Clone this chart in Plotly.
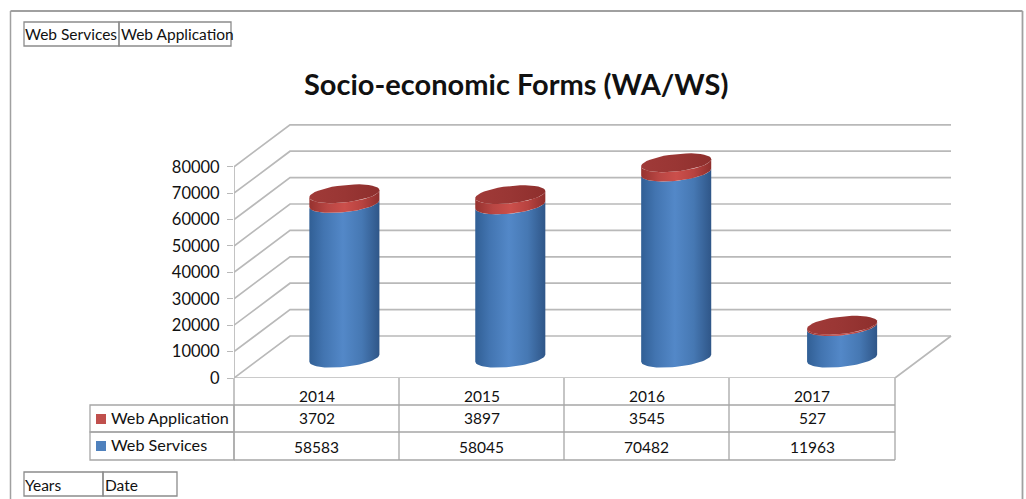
import numpy as np
import plotly.graph_objects as go

years = ["2014", "2015", "2016", "2017"]
web_application = [3702, 3897, 3545, 527]
web_services = [58583, 58045, 70482, 11963]
y_ticks = [0, 10000, 20000, 30000, 40000, 50000, 60000, 70000, 80000]

W, H = 1026, 499
FONT = "Lato"
GRID = "#b9b9b9"
TABLE = "#a6a6a6"
BLUE_SCALE = [[0, "#315f95"], [0.2, "#4274b0"], [0.48, "#5388c8"], [0.75, "#4678b3"], [1, "#2f5688"]]
RED_SCALE = [[0, "#96322f"], [0.25, "#b84643"], [0.5, "#cb4f4b"], [0.75, "#b84340"], [1, "#8f2f2d"]]
TOP_SCALE = [[0, "#a03a38"], [0.5, "#993634"], [1, "#8e2f2d"]]

# 3d look, in axis units
DEPTH_X = 0.339
DEPTH_Y = 15900
BAR_DX = 0.168
BAR_STEP = 1.004
BAR_BASE = 7500
RX = 0.212
RY = 3300
TILT = 1350
X_LEFT, X_RIGHT = -0.5, 3.5


def px(x):
    return x / W


def py(y):
    return 1 - y / H


def arc(cx, v, t0, t1):
    t = np.linspace(t0, t1, 40)
    return cx + RX * np.cos(t), v + RY * np.sin(t) + TILT * np.cos(t)


def band(cx, v0, v1):
    # front face of a cylinder slice between two values
    x0, y0 = arc(cx, v0, np.pi, 2 * np.pi)
    x1, y1 = arc(cx, v1, 2 * np.pi, np.pi)
    return np.concatenate([x0, x1, x0[:1]]), np.concatenate([y0, y1, y0[:1]])


def add_piece(fig, x, y, scale, name):
    fig.add_trace(go.Scatter(x=x, y=y, mode="lines", fill="toself", name=name,
                             line={"width": 0},
                             fillgradient={"type": "horizontal", "colorscale": scale},
                             hoverinfo="name", showlegend=False))


def box(x0, y0, x1, y1, color=TABLE, width=1.3):
    return dict(type="rect", xref="paper", yref="paper", x0=px(x0), x1=px(x1), y0=py(y0), y1=py(y1),
                line={"color": color, "width": width}, layer="below")


def line(x0, y0, x1, y1, color=TABLE, width=1.3):
    return dict(type="line", xref="paper", yref="paper", x0=px(x0), x1=px(x1), y0=py(y0), y1=py(y1),
                line={"color": color, "width": width}, layer="below")


def label(x, y, text, size=15.5, anchor="center", **kw):
    return dict(xref="paper", yref="paper", x=px(x), y=py(y), text=text, showarrow=False,
                xanchor=anchor, yanchor="middle", font={"family": FONT, "size": size, "color": "#111111"},
                borderpad=0, **kw)


fig = go.Figure()

# walls and floor
wall_x, wall_y = [], []
for v in y_ticks:
    wall_x += [X_LEFT, X_LEFT + DEPTH_X, X_RIGHT + DEPTH_X, None]
    wall_y += [v, v + DEPTH_Y, v + DEPTH_Y, None]
wall_x += [X_LEFT, X_LEFT, None, X_LEFT, X_RIGHT, X_RIGHT + DEPTH_X]
wall_y += [0, y_ticks[-1], None, 0, 0, DEPTH_Y]
fig.add_trace(go.Scatter(x=wall_x, y=wall_y, mode="lines", line={"color": GRID, "width": 1.7},
                         hoverinfo="skip", showlegend=False))

# cylinders
for i, year in enumerate(years):
    cx = i * BAR_STEP + BAR_DX
    ws_top = BAR_BASE + web_services[i]
    wa_top = ws_top + web_application[i]
    add_piece(fig, *band(cx, BAR_BASE, ws_top), BLUE_SCALE, "Web Services " + year)
    add_piece(fig, *band(cx, ws_top, wa_top), RED_SCALE, "Web Application " + year)
    add_piece(fig, *arc(cx, wa_top, 0, 2 * np.pi), TOP_SCALE, "Web Application " + year)

col_edges = [234, 399, 564, 729, 895]
shapes = [
    line(10.5, 11, 1022.5, 11, "#a0a0a0", 1.8),
    line(10.5, 11, 10.5, 499, "#a0a0a0", 1.5),
    line(1022.5, 11, 1022.5, 499, "#a0a0a0", 1.8),
    box(24, 22, 119, 46, "#8c8c8c"),
    box(119, 22, 231, 46, "#8c8c8c"),
    box(24, 472, 103, 496, "#8c8c8c"),
    box(103, 472, 177, 496, "#8c8c8c"),
    box(90, 405, 234, 432),
    box(90, 432, 234, 460),
    box(96, 414, 106, 424, "#c0504d", 0),
    box(96, 441, 106, 451, "#4f81bd", 0),
    line(234, 405, 895, 405),
    line(234, 432, 895, 432),
    line(234, 460, 895, 460),
]
shapes[9]["fillcolor"] = "#c0504d"
shapes[10]["fillcolor"] = "#4f81bd"
for e in col_edges:
    shapes.append(line(e, 378, e, 460))

annotations = [
    label(516, 83, "<b>Socio-economic Forms (WA/WS)</b>", size=29),
    label(24, 34, "Web Services", anchor="left"),
    label(120, 34, "Web Application", anchor="left"),
    label(24, 485, "Years", anchor="left"),
    label(104, 485, "Date", anchor="left"),
    label(110, 417, "Web Application", size=16.2, anchor="left"),
    label(110, 444, "Web Services", size=16.2, anchor="left"),
]
for i in range(len(years)):
    c = (col_edges[i] + col_edges[i + 1]) / 2
    annotations.append(label(c, 396, years[i]))
    annotations.append(label(c, 418, str(web_application[i])))
    annotations.append(label(c, 447, str(web_services[i])))

fig.update_xaxes(domain=[234 / W, 952 / W], range=[X_LEFT, 3.845], visible=False)
fig.update_yaxes(domain=[py(378), py(124)], range=[0, 96200], tickvals=y_ticks, tickformat="d",
                 showgrid=False, zeroline=False, showline=False,
                 ticks="outside", ticklen=6, tickcolor=GRID, tickwidth=1.3, ticklabelstandoff=4,
                 tickfont={"family": FONT, "size": 16.5, "color": "#111111"})
# the page shows the figure a little short of the asked height, 509 lands on the full 499
fig.update_layout(width=W, height=509, margin={"r": 0, "t": 0, "l": 0, "b": 0},
                  paper_bgcolor="white", plot_bgcolor="white",
                  shapes=shapes, annotations=annotations, showlegend=False)

fig.write_html("out.html", config={"displayModeBar": False},
               post_script="document.body.style.margin='0';")
